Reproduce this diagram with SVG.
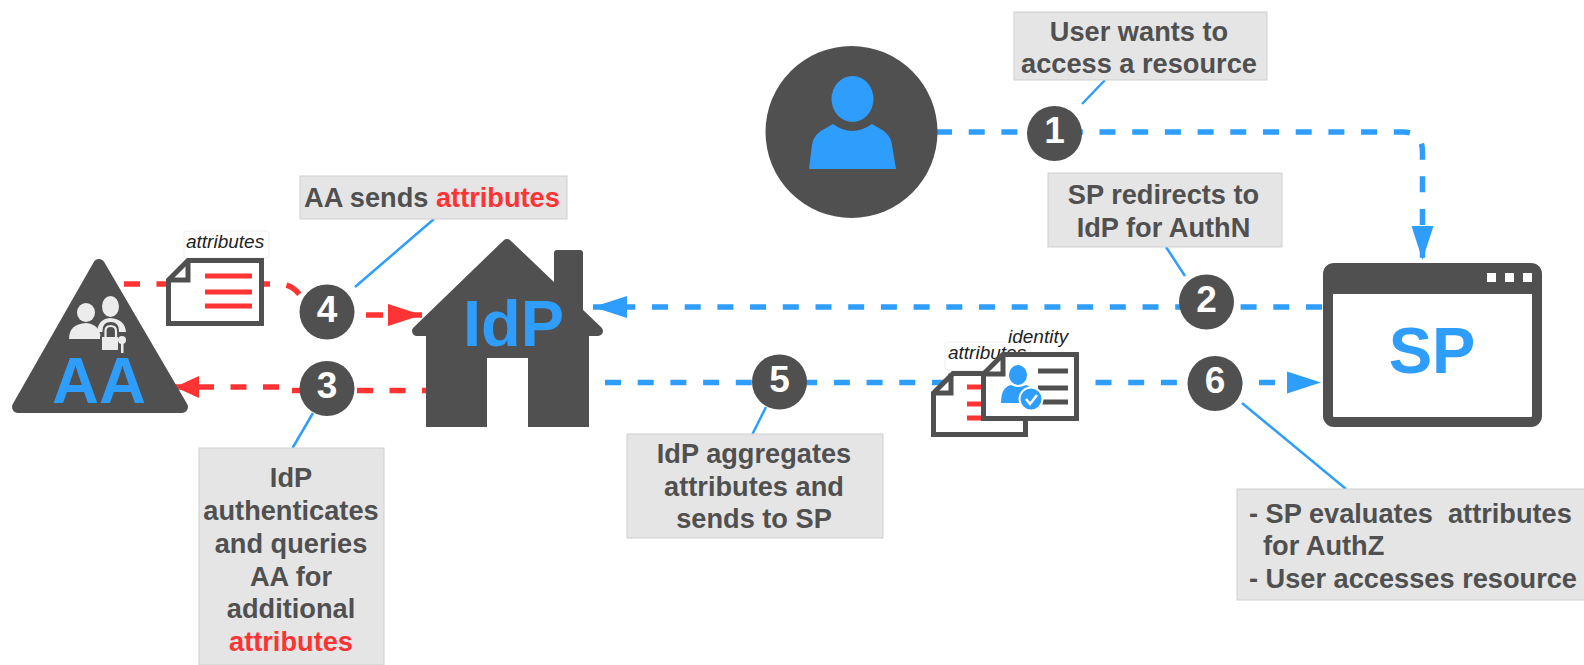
<svg xmlns="http://www.w3.org/2000/svg" width="1584" height="665" viewBox="0 0 1584 665">
<style>
text{font-family:"Liberation Sans",Arial,sans-serif}
.box{fill:#e5e5e5;stroke:#cfcfcf;stroke-width:1}
.t{font-size:27.200px;font-weight:700;fill:#505050;text-anchor:middle}
.tl{font-size:27.200px;font-weight:700;fill:#505050}
.num{font-size:37px;font-weight:700;fill:#fff;text-anchor:middle}
.badge{fill:#505050}
.big{font-size:65px;font-weight:700;fill:#2e9dfc;text-anchor:middle}
.it{font-size:19px;font-style:italic;fill:#222}
.dash-b{fill:none;stroke:#2e9dfc;stroke-width:5.500;stroke-dasharray:16 16.7}
.dash-r{fill:none;stroke:#ff3333;stroke-width:5.500;stroke-dasharray:16 16.500}
.call{fill:none;stroke:#2e9dfc;stroke-width:2.500}
.doc{fill:#fff;stroke:#505050;stroke-width:5}
.fold{fill:none;stroke:#505050;stroke-width:5}
.bar-r{stroke:#ff3333;stroke-width:5}
.bar-d{stroke:#505050;stroke-width:5}
.lab{fill:#fff;stroke:#eeeeee;stroke-width:1}
.lg{fill:#ececec}
</style>
<defs>
<marker id="ab" markerUnits="userSpaceOnUse" markerWidth="34" markerHeight="24" refX="34" refY="12" orient="auto"><path d="M0 1L34 12L0 23Z" fill="#2e9dfc"/></marker>
<marker id="ar" markerUnits="userSpaceOnUse" markerWidth="34" markerHeight="24" refX="34" refY="12" orient="auto"><path d="M0 1L34 12L0 23Z" fill="#ff3333"/></marker>
<marker id="ars" markerUnits="userSpaceOnUse" markerWidth="24" markerHeight="24" refX="24" refY="12" orient="auto"><path d="M0 1L24 12L0 23Z" fill="#ff3333"/></marker>
</defs>
<g id="connectors">
<path class="dash-b" marker-end="url(#ab)" d="M936 132H1403Q1422.500 132 1422.500 152V260"/>
<path class="dash-b" marker-end="url(#ab)" d="M1322 307H593"/>
<path class="dash-b" marker-end="url(#ab)" d="M605 382.500H1321"/>
<path class="dash-r" d="M124 284H280Q295 285 303 300"/>
<path class="dash-r" marker-end="url(#ar)" style="stroke-dasharray:17 6" d="M366 315H422"/>
<path class="dash-r" marker-end="url(#ars)" stroke-dashoffset="10" d="M428 390.500H285V387H175"/>
<path class="call" d="M1105 80L1082 104"/>
<path class="call" d="M1166 247L1185 276"/>
<path class="call" d="M434 219L355 287"/>
<path class="call" d="M313 413L292.500 448"/>
<path class="call" d="M766 407L752.500 434"/>
<path class="call" d="M1242 403L1346 489"/>
</g>
<g id="user">
<circle cx="851.500" cy="132" r="86" fill="#505050"/>
<ellipse cx="852.500" cy="99" rx="21" ry="23" fill="#2e9dfc"/>
<path fill="#2e9dfc" d="M809 169L812 145Q813 134 826 128L833 124Q852 138 872 124L879 128Q891 134 892 145L896 169Z"/>
</g>
<g id="sp">
<rect x="1328" y="268" width="209" height="154" fill="#fff" stroke="#505050" stroke-width="10" rx="6"/>
<rect x="1324" y="264" width="217" height="30" rx="8" fill="#505050"/>
<rect x="1324" y="280" width="217" height="14" fill="#505050"/>
<rect x="1487" y="273" width="9" height="9" fill="#fff"/>
<rect x="1505" y="273" width="9" height="9" fill="#fff"/>
<rect x="1523" y="273" width="9" height="9" fill="#fff"/>
<text class="big" x="1432" y="373">SP</text>
</g>
<g id="idp">
<polygon points="507,244 417,331 598,331" fill="#505050" stroke="#505050" stroke-width="10" stroke-linejoin="round"/>
<rect x="554" y="250" width="29" height="70" rx="3" fill="#505050"/>
<path fill="#505050" d="M426 330H589V427H528V358H487V427H426Z"/>
<text class="big" x="513.500" y="346">IdP</text>
</g>
<g id="aa">
<polygon points="99,265 18,407 182,407" fill="#505050" stroke="#505050" stroke-width="12" stroke-linejoin="round"/>
<ellipse class="lg" cx="110.500" cy="306.500" rx="8.500" ry="10.500"/>
<path class="lg" d="M97 332Q98 319 110 318Q125 319 126 332Z"/>
<ellipse cx="86" cy="312.500" rx="10.500" ry="11" fill="#505050"/>
<ellipse class="lg" cx="86" cy="312.500" rx="9" ry="9.500"/>
<path class="lg" d="M69 339Q69 324 86 323Q100 324 101 339Z"/>
<path d="M104.500 338V331Q104.500 324 110.500 324Q117 324 117 331V338Z" fill="#505050" stroke="#505050" stroke-width="4"/>
<rect x="101" y="336" width="18" height="15" rx="1" class="lg" stroke="#505050" stroke-width="2"/>
<path d="M105.500 337V331Q105.500 326 110.500 326Q116 326 116 331V337" fill="none" stroke="#ececec" stroke-width="2.200"/>
<circle class="lg" cx="122" cy="340" r="4"/>
<rect class="lg" x="121" y="342" width="2.500" height="11"/>
<text class="big" x="99" y="403">AA</text>
</g>
<g id="doc-attributes">
<rect class="lab" x="184" y="231" width="85" height="27" rx="3"/>
<text class="it" x="186" y="248">attributes</text>
<path class="doc" d="M188 260.500H261.500V323.500H168.500V280Z"/>
<path class="fold" d="M188 260.500V280H168.500"/>
<path class="bar-r" d="M205 276H252M205 292H252M205 306H252"/>
</g>
<g id="doc-attributes-2">
<rect class="lab" x="945" y="342" width="85" height="28" rx="3"/>
<text class="it" x="948" y="359">attributes</text>
<path class="doc" d="M953 373.500H1025.500V434.500H933.500V393Z"/>
<path class="fold" d="M951 373.500V393H933.500"/>
<path class="bar-r" d="M967 387H983M967 404H983M967 418H983"/>
</g>
<g id="doc-identity">
<path class="doc" d="M1003 354.500H1076.500V418.500H983.500V374Z"/>
<path class="fold" d="M1003 354.500V374H983.500"/>
<text class="it" x="1008" y="343">identity</text>
<path class="bar-d" d="M1038 371H1068M1038 388H1068M1038 402H1068"/>
<ellipse cx="1018" cy="375" rx="9" ry="10" fill="#2e9dfc"/>
<path fill="#2e9dfc" d="M1001 403Q1001 387 1011 385Q1018 389 1026 385Q1036 388 1037 403Z"/>
<circle cx="1031" cy="399" r="11.500" fill="#2e9dfc" stroke="#fff" stroke-width="2"/>
<path d="M1026 399L1030 404L1037 395" fill="none" stroke="#fff" stroke-width="2.500"/>
</g>
<g id="step-1"><circle class="badge" cx="1054.500" cy="133.500" r="27.500"/><text class="num" x="1054.500" y="143">1</text></g>
<g id="step-2"><circle class="badge" cx="1206.500" cy="302" r="27.500"/><text class="num" x="1206.500" y="311.500">2</text></g>
<g id="step-3"><circle class="badge" cx="327" cy="388.500" r="27.500"/><text class="num" x="327" y="398">3</text></g>
<g id="step-4"><circle class="badge" cx="327" cy="312" r="27.500"/><text class="num" x="327" y="322">4</text></g>
<g id="step-5"><circle class="badge" cx="779.500" cy="382" r="27.500"/><text class="num" x="779.500" y="392">5</text></g>
<g id="step-6"><circle class="badge" cx="1215" cy="383.500" r="27.500"/><text class="num" x="1215" y="393">6</text></g>
<g id="note-1"><rect class="box" x="1014" y="12" width="253" height="68"/>
<text class="t" x="1139" y="41">User wants to</text><text class="t" x="1139" y="73">access a resource</text></g>
<g id="note-2"><rect class="box" x="1048" y="173" width="234" height="74"/>
<text class="t" x="1163.500" y="204">SP redirects to</text><text class="t" x="1163.500" y="237">IdP for AuthN</text></g>
<g id="note-3"><rect class="box" x="199" y="448" width="185" height="217"/>
<text class="t" x="291" y="487">IdP</text><text class="t" x="291" y="520">authenticates</text><text class="t" x="291" y="553">and queries</text><text class="t" x="291" y="586">AA for</text><text class="t" x="291" y="618">additional</text><text class="t" x="291" y="651" style="fill:#ff3333">attributes</text></g>
<g id="note-4"><rect class="box" x="300" y="176" width="267" height="43"/>
<text class="tl" x="304" y="207">AA sends <tspan style="fill:#ff3333">attributes</tspan></text></g>
<g id="note-5"><rect class="box" x="627" y="434" width="256" height="104"/>
<text class="t" x="754" y="463">IdP aggregates</text><text class="t" x="754" y="496">attributes and</text><text class="t" x="754" y="528">sends to SP</text></g>
<g id="note-6"><rect class="box" x="1237" y="489" width="348" height="111"/>
<text class="tl" x="1249" y="523" xml:space="preserve">- SP evaluates  attributes</text><text class="tl" x="1263" y="555">for AuthZ</text><text class="tl" x="1249" y="588">- User accesses resource</text></g>
</svg>
